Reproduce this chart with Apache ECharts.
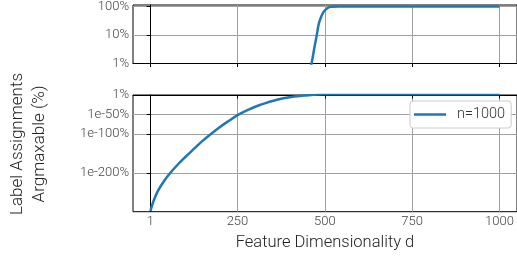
<!DOCTYPE html>
<html>
<head>
<meta charset="utf-8">
<script src="https://cdn.jsdelivr.net/npm/echarts@6/dist/echarts.min.js"></script>
<style>
  html, body { margin: 0; padding: 0; background: #fff; }
  #chart_argmax { width: 517px; height: 257px; }
</style>
</head>
<body>
<div id="chart_argmax"></div>
<script>
// feature dimensionality d (x positions)
const dims = [1, 10, 22, 40, 58, 80, 100, 126, 150, 174, 200, 221, 254, 280, 316, 363, 411, 440, 462, 470, 477, 484, 496, 508, 520, 540, 600, 700, 800, 900, 1000]
// label assignments argmaxable, as log10 of the percent value (axis is log scale)
const logPct = [-298, -272, -247, -221, -200, -178, -160, -138, -118, -100, -82, -69, -50, -38, -25, -12, -4, -1.2, 0, 0.55, 1.0, 1.45, 1.8, 1.95, 1.99, 2.0, 2.0, 2.0, 2.0, 2.0, 2.0]

const xTicks = [1, 250, 500, 750, 1000]
const upperTicks = [0, 1, 2]          // 1%, 10%, 100%
const upperTickLabels = ['1%', '10%', '100%']
const lowerTicks = [0, -50, -100, -200]
const minorPct = [2, 3, 4, 5, 6, 7, 8, 9, 20, 30, 40, 50, 60, 70, 80, 90]
const seriesName = 'n=1000'

const font = 'Roboto'
const points = dims.map((d, i) => [d, logPct[i]])

function xAxisOpt(idx, withLabels) {
  return {
    gridIndex: idx,
    type: 'value',
    min: -49,
    max: 1050,
    axisLine: { show: true, lineStyle: { color: '#000', width: 1 } },
    axisTick: { show: true, customValues: xTicks, length: 3.5, lineStyle: { color: '#000' } },
    axisLabel: {
      show: withLabels, customValues: xTicks, margin: 4,
      fontFamily: font, fontWeight: 300, fontSize: 13, color: '#444',
      formatter: v => String(v)
    },
    splitLine: { show: true, lineStyle: { color: '#a0a0a0', width: 1 } },
    name: withLabels ? 'Feature Dimensionality d' : '',
    nameLocation: 'middle',
    nameGap: 23,
    nameTextStyle: { fontFamily: font, fontWeight: 300, fontSize: 16.5, color: '#222' }
  }
}

const option = {
  animation: false,
  backgroundColor: '#fff',
  grid: [
    { left: 133, top: 5, width: 387, height: 58.5, show: true, borderColor: '#000', borderWidth: 1 },
    { left: 133, top: 95, width: 387, height: 116.7, show: true, borderColor: '#000', borderWidth: 1 }
  ],
  legend: {
    data: [seriesName],
    left: 410,
    top: 101,
    padding: [5, 6, 5, 4],
    icon: 'rect',
    itemWidth: 32,
    itemHeight: 2.5,
    borderColor: '#ccc',
    borderWidth: 1,
    borderRadius: 3,
    backgroundColor: '#fff',
    textStyle: { fontFamily: font, fontWeight: 300, fontSize: 14.5, color: '#333', padding: [0, 0, 0, 6], lineHeight: 17 }
  },
  xAxis: [xAxisOpt(0, false), xAxisOpt(1, true)],
  yAxis: [
    {
      gridIndex: 0, type: 'value', min: 0, max: 2.053,
      axisLine: { show: true, lineStyle: { color: '#000' } },
      axisTick: { show: true, customValues: upperTicks, length: 3.5, lineStyle: { color: '#000' } },
      axisLabel: {
        customValues: upperTicks, margin: 4,
        fontFamily: font, fontWeight: 300, fontSize: 13, color: '#444',
        formatter: v => upperTickLabels[upperTicks.indexOf(Math.round(v))] || ''
      },
      splitLine: { show: true, lineStyle: { color: '#a0a0a0', width: 1 } }
    },
    {
      gridIndex: 1, type: 'value', min: -300, max: 0,
      axisLine: { show: true, lineStyle: { color: '#000' } },
      axisTick: { show: true, customValues: lowerTicks, length: 3.5, lineStyle: { color: '#000' } },
      axisLabel: {
        customValues: lowerTicks, margin: 4,
        fontFamily: font, fontWeight: 300, fontSize: 13, color: '#444',
        formatter: v => v === 0 ? '1%' : '1e' + v + '%'
      },
      splitLine: { show: true, lineStyle: { color: '#a0a0a0', width: 1 } }
    },
    {
      // minor log ticks on the upper panel
      gridIndex: 0, type: 'value', min: 0, max: 2.053,
      axisLine: { show: false },
      axisTick: { show: true, customValues: minorPct.map(v => Math.log10(v)), length: 2, lineStyle: { color: '#000' } },
      axisLabel: { show: false },
      splitLine: { show: false }
    }
  ],
  series: [
    {
      name: seriesName, type: 'line', xAxisIndex: 0, yAxisIndex: 0,
      data: points, symbol: 'none', smooth: 0.4, clip: true,
      lineStyle: { color: '#1f77b4', width: 2.5 }, itemStyle: { color: '#1f77b4' }
    },
    {
      name: seriesName, type: 'line', xAxisIndex: 1, yAxisIndex: 1,
      data: points, symbol: 'none', smooth: 0.4, clip: true,
      lineStyle: { color: '#1f77b4', width: 2.5 }, itemStyle: { color: '#1f77b4' }
    }
  ],
  graphic: [
    {
      type: 'text',
      x: 29, y: 144,
      rotation: Math.PI / 2,
      style: {
        text: 'Label Assignments\nArgmaxable (%)',
        font: '300 17px Roboto',
        fill: '#222',
        align: 'center',
        verticalAlign: 'middle',
        lineHeight: 22
      }
    }
  ]
}

let chart_argmax = echarts.init(document.getElementById('chart_argmax'))
chart_argmax.setOption(option)
</script>
</body>
</html>
